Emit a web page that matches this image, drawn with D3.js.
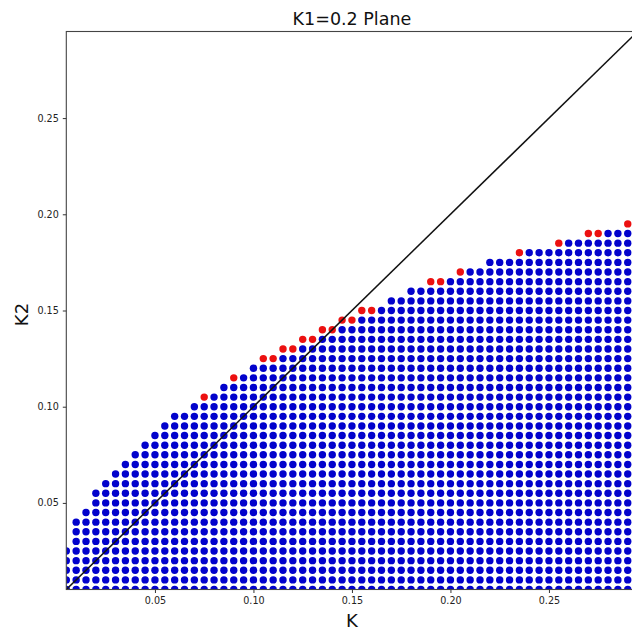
<!DOCTYPE html>
<html>
<head>
<meta charset="utf-8">
<script src="https://cdn.jsdelivr.net/npm/d3@7"></script>
<style>
  html, body { margin: 0; padding: 0; background: #fff; }
  svg { display: block; font-family: "DejaVu Sans", sans-serif; }
</style>
</head>
<body>
<svg id="chart" width="632" height="630"></svg>
<script>
// Grid spacing of the sampled (K, K2) points
const gridStep = 0.005;

// Sampled K values (one column of points per value)
const kColumns = [
  0.005, 0.010, 0.015, 0.020, 0.025, 0.030, 0.035, 0.040, 0.045, 0.050,
  0.055, 0.060, 0.065, 0.070, 0.075, 0.080, 0.085, 0.090, 0.095, 0.100,
  0.105, 0.110, 0.115, 0.120, 0.125, 0.130, 0.135, 0.140, 0.145, 0.150,
  0.155, 0.160, 0.165, 0.170, 0.175, 0.180, 0.185, 0.190, 0.195, 0.200,
  0.205, 0.210, 0.215, 0.220, 0.225, 0.230, 0.235, 0.240, 0.245, 0.250,
  0.255, 0.260, 0.265, 0.270, 0.275, 0.280, 0.285, 0.290
];

// Highest K2 of the blue (stable) points in each K column
const blueTopK2 = [
  0.025, 0.040, 0.045, 0.055, 0.060, 0.065, 0.070, 0.075, 0.080, 0.085,
  0.090, 0.095, 0.095, 0.100, 0.100, 0.105, 0.110, 0.110, 0.115, 0.120,
  0.120, 0.120, 0.125, 0.125, 0.130, 0.130, 0.135, 0.135, 0.140, 0.140,
  0.145, 0.145, 0.150, 0.155, 0.155, 0.160, 0.160, 0.160, 0.160, 0.165,
  0.165, 0.170, 0.170, 0.175, 0.175, 0.175, 0.175, 0.180, 0.180, 0.180,
  0.180, 0.185, 0.185, 0.185, 0.185, 0.190, 0.190, 0.190
];

// Red (boundary) points: K and K2
const redK = [
  0.075, 0.090, 0.105, 0.110, 0.115, 0.120, 0.125, 0.130, 0.135, 0.140,
  0.145, 0.150, 0.155, 0.160, 0.190, 0.195, 0.205, 0.235, 0.255, 0.270,
  0.275, 0.290
];
const redK2 = [
  0.105, 0.115, 0.125, 0.125, 0.130, 0.130, 0.135, 0.135, 0.140, 0.140,
  0.145, 0.145, 0.150, 0.150, 0.165, 0.165, 0.170, 0.180, 0.185, 0.190,
  0.190, 0.195
];

// Axis limits and ticks
const xDomain = [0.005, 0.295];
const yDomain = [0.005, 0.295];
const xTicks = [0.05, 0.10, 0.15, 0.20, 0.25];
const yTicks = [0.05, 0.10, 0.15, 0.20, 0.25];
const xTickLabels = ["0.05", "0.10", "0.15", "0.20", "0.25"];
const yTickLabels = ["0.05", "0.10", "0.15", "0.20", "0.25"];
// Reference line K2 = K
const diagonal = [[0.005, 0.005], [0.295, 0.295]];

const titleText = "K1=0.2 Plane";
const xLabelText = "K";
const yLabelText = "K2";

// ---- layout ----
const plot = { left: 66.3, right: 637.6, top: 31.5, bottom: 589.5 };

const svg = d3.select("#chart");
svg.append("rect").attr("width", 632).attr("height", 630).attr("fill", "#fff");

const x = d3.scaleLinear().domain(xDomain).range([plot.left, plot.right]);
const y = d3.scaleLinear().domain(yDomain).range([plot.bottom, plot.top]);

svg.append("defs").append("clipPath").attr("id", "plot-clip")
  .append("rect")
  .attr("x", plot.left).attr("y", plot.top)
  .attr("width", plot.right - plot.left).attr("height", plot.bottom - plot.top);

// Expand each column into its grid of blue points
const bluePoints = [];
kColumns.forEach((k, i) => {
  const n = Math.round((blueTopK2[i] - yDomain[0]) / gridStep);
  for (let j = 0; j <= n; j++) {
    bluePoints.push({ k, k2: +(yDomain[0] + j * gridStep).toFixed(3) });
  }
});
const redPoints = redK.map((k, i) => ({ k, k2: redK2[i] }));

const marks = svg.append("g").attr("clip-path", "url(#plot-clip)");
const r = 3.7;

marks.selectAll("circle.blue").data(bluePoints).join("circle")
  .attr("class", "blue")
  .attr("cx", d => x(d.k)).attr("cy", d => y(d.k2)).attr("r", r)
  .attr("fill", "#0202cc");

marks.selectAll("circle.red").data(redPoints).join("circle")
  .attr("class", "red")
  .attr("cx", d => x(d.k)).attr("cy", d => y(d.k2)).attr("r", r)
  .attr("fill", "#ec1010");

marks.append("path")
  .datum(diagonal)
  .attr("d", d3.line().x(d => x(d[0])).y(d => y(d[1])))
  .attr("fill", "none").attr("stroke", "#111").attr("stroke-width", 1.5);

// Frame
svg.append("rect")
  .attr("x", plot.left).attr("y", plot.top)
  .attr("width", plot.right - plot.left).attr("height", plot.bottom - plot.top)
  .attr("fill", "none").attr("stroke", "#444").attr("stroke-width", 1.1);

// Axes
const xAxis = d3.axisBottom(x).tickValues(xTicks)
  .tickFormat((d, i) => xTickLabels[i]).tickSize(3.5).tickPadding(4).tickSizeOuter(0);
const yAxis = d3.axisLeft(y).tickValues(yTicks)
  .tickFormat((d, i) => yTickLabels[i]).tickSize(3.5).tickPadding(4).tickSizeOuter(0);

const gx = svg.append("g").attr("transform", `translate(0,${plot.bottom})`).call(xAxis);
const gy = svg.append("g").attr("transform", `translate(${plot.left},0)`).call(yAxis);
[gx, gy].forEach(g => {
  g.select(".domain").remove();
  g.selectAll("line").attr("stroke", "#333");
  g.selectAll("text").attr("fill", "#222")
    .style("font-family", "'DejaVu Sans', sans-serif").style("font-size", "9.6px");
});

// Titles
svg.append("text")
  .attr("x", (plot.left + plot.right) / 2).attr("y", 25)
  .attr("text-anchor", "middle").attr("fill", "#111")
  .style("font-size", "17.5px").text(titleText);

svg.append("text")
  .attr("x", (plot.left + plot.right) / 2).attr("y", 627)
  .attr("text-anchor", "middle").attr("fill", "#111")
  .style("font-size", "18px").text(xLabelText);

svg.append("text")
  .attr("transform", `translate(28,${(plot.top + plot.bottom) / 2 + 4}) rotate(-90)`)
  .attr("text-anchor", "middle").attr("fill", "#111")
  .style("font-size", "18px").text(yLabelText);
</script>
</body>
</html>
